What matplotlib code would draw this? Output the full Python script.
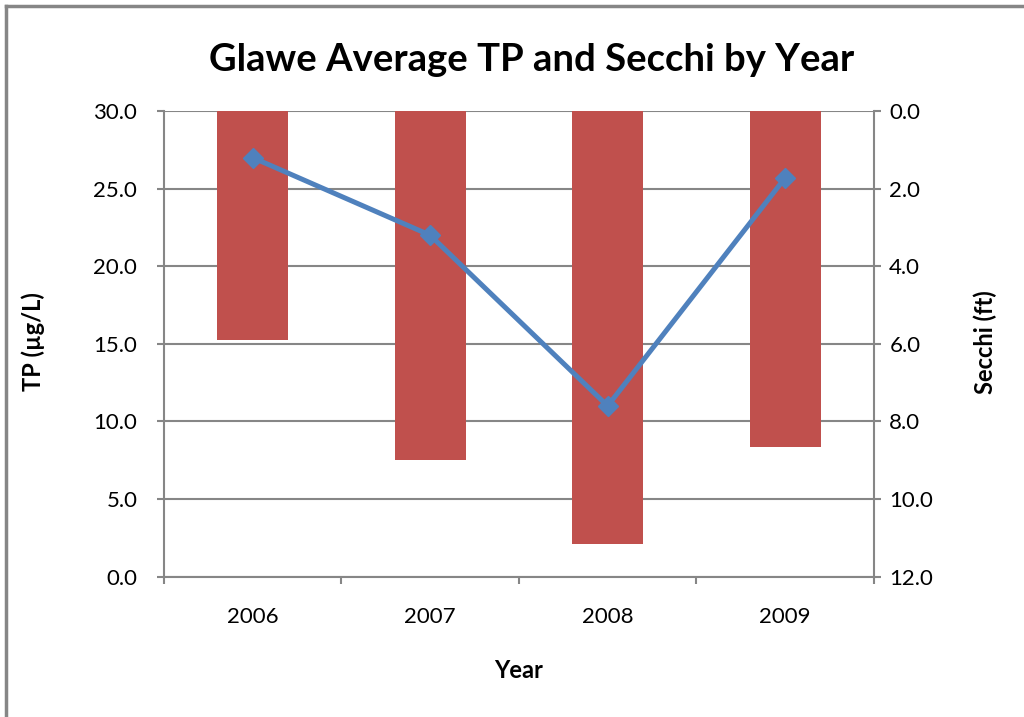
import matplotlib
matplotlib.use("Agg")
import matplotlib.pyplot as plt
from matplotlib.lines import Line2D

years = ["2006", "2007", "2008", "2009"]
tp = [27.0, 22.0, 11.0, 25.7]
secchi = [5.9, 9.0, 11.15, 8.65]
tp_ticks = [0, 5, 10, 15, 20, 25, 30]
secchi_ticks = [0, 2, 4, 6, 8, 10, 12]

plt.rcParams['font.family'] = ['Lato', 'DejaVu Sans']
grey = '#868686'

fig = plt.figure(figsize=(10.24, 7.17), dpi=100)
ax = fig.add_axes([0.1599, 0.1957, 0.6936, 0.6495])
ax2 = ax.twinx()

x = list(range(len(years)))

# bars on secondary axis (inverted)
ax2.bar(x, secchi, width=0.4, color='#C0504D', zorder=3)
ax2.set_ylim(12, 0)
ax2.set_yticks(secchi_ticks)
ax2.set_yticklabels([f"{v:.1f}" for v in secchi_ticks])
ax2.grid(axis='y', color=grey, linewidth=1.5, zorder=0)
ax2.set_axisbelow(True)

# line on primary, drawn above
ax.set_zorder(ax2.get_zorder() + 1)
ax.patch.set_visible(False)
ax.plot(x, tp, color='#4F81BD', linewidth=3.6, marker='D', markersize=10, zorder=5)
ax.set_ylim(0, 30)
ax.set_yticks(tp_ticks)
ax.set_yticklabels([f"{v:.1f}" for v in tp_ticks])
ax.set_xlim(-0.5, 3.5)
ax.set_xticks(x)
ax.set_xticklabels(years)
ax.set_xticks([-0.5, 0.5, 1.5, 2.5, 3.5], minor=True)
ax.tick_params(axis='x', which='major', length=0, pad=22, labelsize=16)
ax.tick_params(axis='x', which='minor', length=5, width=1.5, color=grey)
ax.tick_params(axis='y', length=5, width=1.5, color=grey, labelsize=16, pad=14)
ax2.tick_params(axis='y', length=5, width=1.5, color=grey, labelsize=16, pad=6)
ax2.tick_params(axis='x', length=0)

for a in (ax, ax2):
    for s in a.spines.values():
        s.set_visible(False)
ax.spines['left'].set_visible(True)
ax.spines['left'].set_color(grey)
ax.spines['left'].set_linewidth(1.5)
ax.spines['bottom'].set_visible(True)
ax.spines['bottom'].set_color(grey)
ax.spines['bottom'].set_linewidth(1.5)
ax2.spines['right'].set_visible(True)
ax2.spines['right'].set_color(grey)
ax2.spines['right'].set_linewidth(1.5)

fig.text(532/1024, 1 - 60/717, "Glawe Average TP and Secchi by Year", ha='center', va='center',
         fontsize=27.5, fontweight='bold')
fig.text(33/1024, 1 - 342/717, "TP (µg/L)", rotation=90, ha='center', va='center',
         fontsize=17, fontweight='bold')
fig.text(985/1024, 1 - 342/717, "Secchi (ft)", rotation=90, ha='center', va='center',
         fontsize=17, fontweight='bold')
fig.text(519/1024, 1 - 670/717, "Year", ha='center', va='center', fontsize=17, fontweight='bold')

# outer chart border (left and top visible)
fig.add_artist(Line2D([6/1024, 6/1024], [0, 1 - 6/717], color=grey, linewidth=2.5, transform=fig.transFigure))
fig.add_artist(Line2D([6/1024, 1], [1 - 6/717, 1 - 6/717], color=grey, linewidth=2.5, transform=fig.transFigure))

fig.savefig("out.png", dpi=100)
